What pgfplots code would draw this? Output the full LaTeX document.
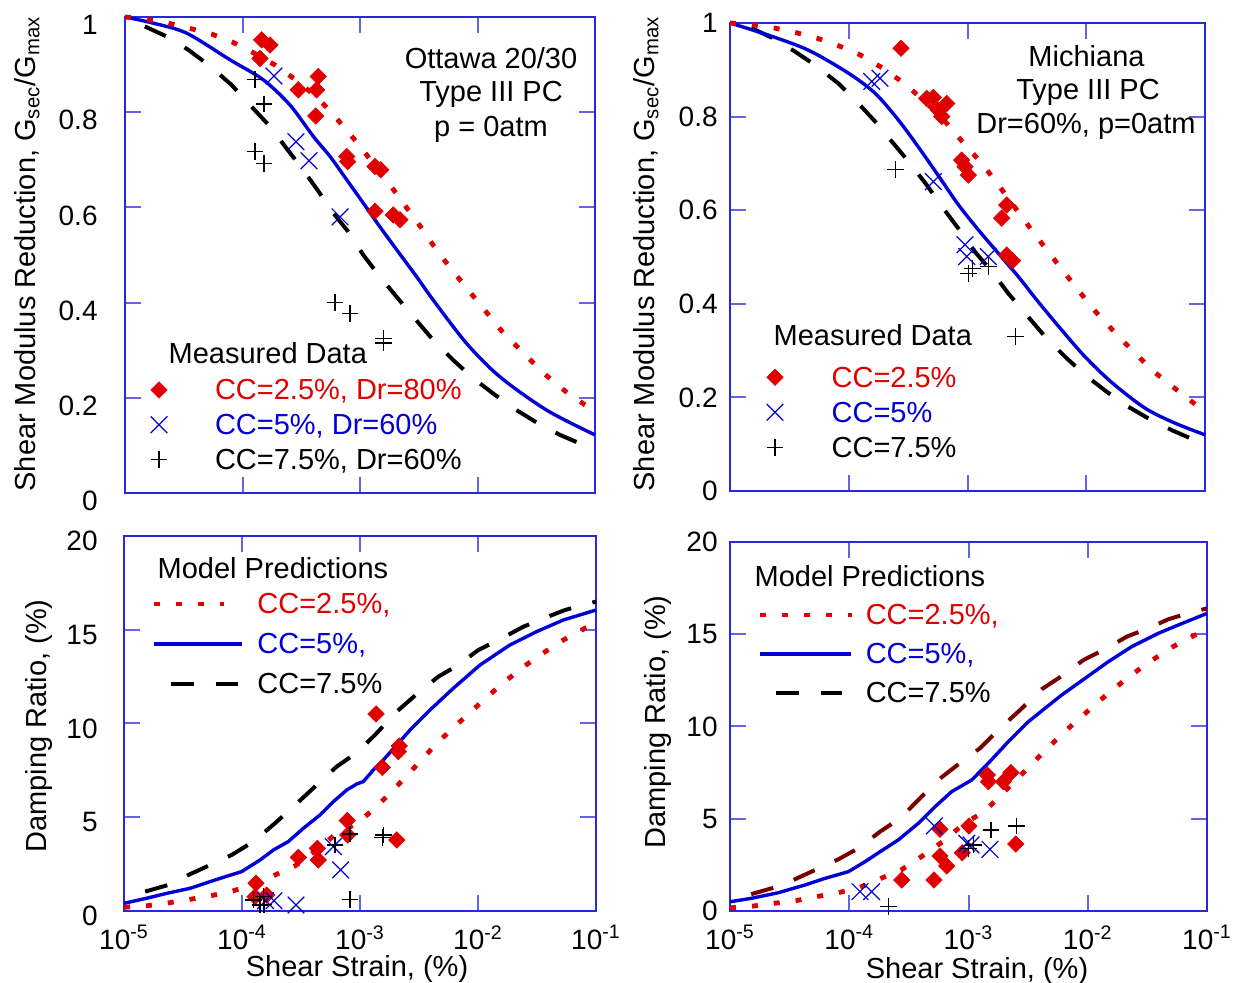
\documentclass[border=0pt]{standalone}
\usepackage{pgfplots}
\pgfplotsset{compat=1.18}
\usepackage{fontspec}
\setmainfont{Liberation Sans}
\definecolor{myred}{RGB}{225,0,0}
\definecolor{myblue}{RGB}{0,0,215}
\definecolor{framec}{RGB}{40,40,220}
\definecolor{tickc}{RGB}{100,100,230}
\definecolor{maroon}{RGB}{120,0,0}
\newcommand{\tf}{\fontsize{14.5pt}{17pt}\selectfont}
\newcommand{\tkf}{\fontsize{14pt}{16pt}\selectfont}
\pgfplotsset{
 base/.style={scale only axis, xmin=-5, xmax=-1, xtick={-5,-4,-3,-2,-1}, clip=false,
   axis line style={draw=framec, line width=1pt},
   tick style={draw=tickc, line width=1pt},
   major tick length=8pt, tick align=inside, xtick pos=both, ytick pos=both,
   xminorticks=false, yminorticks=false,
   tick label style={font=\tkf, /pgf/number format/assume math mode=true},
   legend cell align=left},
 gaxis/.style={base, ymin=0, ymax=1, ytick={0,0.2,0.4,0.6,0.8,1}, xticklabels={,,,,}},
 daxis/.style={base, ymin=0, ymax=20, ytick={0,5,10,15,20},
   xticklabels={10\textsuperscript{-5},10\textsuperscript{-4},10\textsuperscript{-3},10\textsuperscript{-2},10\textsuperscript{-1}},
   xticklabel style={anchor=north, inner sep=0pt, yshift=-7pt}},
 reddot/.style={myred, line width=2.4pt, dash pattern=on 3pt off 8pt},
 bluel/.style={myblue, line width=1.7pt},
 blkd/.style={black, line width=2pt, dash pattern=on 11.5pt off 11pt, dash phase=11.5pt},
 mleg/.style={legend image code/.code={\draw[##1] plot coordinates {(8pt,0pt)}; \path[draw=none,fill=none] (0pt,-6pt) rectangle (16pt,6pt);}},
 limg/.style n args={3}{legend image code/.code={\draw[##1] (#1,0pt) -- (#2,0pt); \path[draw=none,fill=none] (0pt,-5pt) rectangle (#3,5pt);}},
 limgb/.style n args={3}{legend image code/.code={\draw[##1, black, dash phase=0pt] (#1,0pt) -- (#2,0pt); \path[draw=none,fill=none] (0pt,-5pt) rectangle (#3,5pt);}},
 mdiam/.style={only marks, myred, mark=square*, mark size=2.9pt, mark options={rotate=45, fill=myred, draw=myred, line width=0.3pt}, mleg},
 mx/.style={only marks, myblue, mark=x, mark size=5.9pt, mark options={line width=0.6pt}, mleg},
 mplus/.style={only marks, black, mark=+, mark size=4.2pt, mark options={line width=0.6pt}, mleg},
}
\begin{document}
\begin{tikzpicture}[font=\tf]
\useasboundingbox (0pt,0pt) rectangle (618.5pt,491.5pt);
%================ TOP LEFT
\begin{axis}[gaxis, at={(62.5pt,245pt)}, anchor=south west, width=235pt, height=238pt,
  yticklabel style={anchor=east, inner sep=0pt, xshift=-13.5pt, yshift=-4pt},
  legend style={at={(0.0383,0.2416)}, anchor=north west, draw=none, fill=none, inner sep=0pt, outer sep=0pt,
    row sep=5.35pt, column sep=20pt, font=\tf, nodes={inner sep=0pt, text height=10pt, text depth=0pt}}]
\addplot[blkd, forget plot] coordinates {(-5,1.0) (-4.83,0.980) (-4.645,0.959) (-4.461,0.931) (-4.277,0.897) (-4.092,0.857) (-3.936,0.815) (-3.766,0.770) (-3.638,0.728) (-3.488,0.680) (-3.363,0.637) (-3.227,0.588) (-3.1,0.549) (-2.972,0.500) (-2.83,0.454) (-2.688,0.412) (-2.546,0.370) (-2.376,0.321) (-2.206,0.279) (-2.036,0.241) (-1.851,0.206) (-1.667,0.174) (-1.483,0.146) (-1.298,0.122) (-1.128,0.104) (-1.0,0.092)};
\addplot[bluel, smooth, forget plot] coordinates {(-5,1.0) (-4.759,0.987) (-4.475,0.966) (-4.106,0.910) (-3.823,0.868) (-3.596,0.815) (-3.397,0.749) (-3.255,0.707) (-3.113,0.658) (-2.972,0.609) (-2.830,0.559) (-2.688,0.511) (-2.517,0.454) (-2.376,0.405) (-2.092,0.314) (-1.809,0.244) (-1.411,0.174) (-1.0,0.122)};
\addplot[reddot, forget plot] coordinates {(-5,1.0) (-4.815,0.995) (-4.631,0.987) (-4.447,0.976) (-4.262,0.964) (-4.083,0.947) (-3.908,0.925) (-3.723,0.899) (-3.553,0.869) (-3.355,0.829) (-3.193,0.785) (-3.028,0.737) (-2.759,0.652) (-2.626,0.607) (-2.489,0.561) (-2.367,0.517) (-2.226,0.471) (-2.084,0.428) (-1.945,0.386) (-1.789,0.339) (-1.616,0.296) (-1.434,0.251) (-1.264,0.216) (-1.085,0.185) (-1.0,0.172)};
\addplot[mdiam] coordinates {(-3.837,0.952) (-3.766,0.941) (-3.851,0.913) (-3.355,0.875) (-3.525,0.847) (-3.369,0.847) (-3.377,0.792) (-3.113,0.707) (-3.105,0.696) (-2.872,0.686) (-2.824,0.679) (-2.872,0.592) (-2.716,0.584) (-2.66,0.574)};
\addlegendentry{\textcolor{myred}{CC=2.5\%, Dr=80\%}}
\addplot[mx] coordinates {(-3.732,0.876) (-3.545,0.738) (-3.434,0.698) (-3.17,0.580)};
\addlegendentry{\textcolor{myblue}{CC=5\%, Dr=60\%}}
\addplot[mplus] coordinates {(-3.894,0.868) (-3.817,0.817) (-3.894,0.717) (-3.817,0.693) (-3.213,0.400) (-3.085,0.377) (-2.802,0.325) (-2.802,0.315)};
\addlegendentry{CC=7.5\%, Dr=60\%}
\end{axis}
%================ TOP RIGHT
\begin{axis}[gaxis, at={(365pt,246pt)}, anchor=south west, width=237.5pt, height=234pt,
  yticklabel style={anchor=east, inner sep=0pt, xshift=-6pt},
  legend style={at={(0.0611,0.2686)}, anchor=north west, draw=none, fill=none, inner sep=0pt, outer sep=0pt,
    row sep=5.5pt, column sep=20.3pt, font=\tf, nodes={inner sep=0pt, text height=10pt, text depth=0pt}}]
\addplot[blkd, forget plot] coordinates {(-5,1.0) (-4.818,0.989) (-4.635,0.967) (-4.453,0.939) (-4.284,0.910) (-4.088,0.871) (-3.933,0.832) (-3.765,0.786) (-3.625,0.743) (-3.484,0.700) (-3.344,0.654) (-3.204,0.604) (-3.077,0.561) (-2.937,0.511) (-2.796,0.469) (-2.656,0.422) (-2.516,0.380) (-2.347,0.330) (-2.179,0.287) (-2.011,0.248) (-1.828,0.212) (-1.646,0.180) (-1.477,0.155) (-1.28,0.130) (-1.126,0.113) (-1.0,0.104)};
\addplot[bluel, smooth, forget plot] coordinates {(-5,1.0) (-4.677,0.974) (-4.341,0.942) (-4.004,0.893) (-3.779,0.850) (-3.583,0.793) (-3.414,0.735) (-3.246,0.674) (-3.078,0.612) (-2.909,0.558) (-2.741,0.508) (-2.572,0.458) (-2.404,0.404) (-2.207,0.344) (-2.011,0.287) (-1.786,0.232) (-1.505,0.177) (-1.253,0.145) (-1.0,0.120)};
\addplot[reddot, forget plot] coordinates {(-5,1.0) (-4.804,0.996) (-4.621,0.989) (-4.438,0.979) (-4.261,0.967) (-4.082,0.951) (-3.905,0.932) (-3.737,0.907) (-3.554,0.875) (-3.36,0.833) (-3.19,0.79) (-3.035,0.744) (-2.886,0.702) (-2.746,0.656) (-2.482,0.565) (-2.353,0.522) (-2.207,0.474) (-2.067,0.429) (-1.921,0.383) (-1.772,0.342) (-1.589,0.294) (-1.421,0.253) (-1.238,0.216) (-1.076,0.184) (-1.0,0.172)};
\addplot[mdiam] coordinates {(-3.56,0.946) (-3.344,0.839) (-3.288,0.841) (-3.175,0.828) (-3.246,0.814) (-3.217,0.800) (-3.049,0.707) (-3.021,0.693) (-2.993,0.675) (-2.67,0.611) (-2.712,0.583) (-2.67,0.504) (-2.622,0.492)};
\addlegendentry{\textcolor{myred}{CC=2.5\%}}
\addplot[mx] coordinates {(-3.807,0.875) (-3.737,0.882) (-3.288,0.661) (-3.021,0.526) (-3.007,0.501) (-2.825,0.501)};
\addlegendentry{\textcolor{myblue}{CC=5\%}}
\addplot[mplus] coordinates {(-3.605,0.687) (-2.993,0.465) (-2.959,0.476) (-2.825,0.479) (-2.594,0.330)};
\addlegendentry{CC=7.5\%}
\end{axis}
%================ BOTTOM LEFT
\begin{axis}[daxis, at={(62pt,36pt)}, anchor=south west, width=236pt, height=187.5pt,
  yticklabel style={anchor=east, inner sep=0pt, xshift=-13pt, yshift=-2.5pt},
  reverse legend,
  legend style={at={(0.0587,0.8453)}, anchor=north west, draw=none, fill=none, inner sep=0pt, outer sep=0pt,
    row sep=10pt, column sep=5.65pt, font=\tf, nodes={inner sep=0pt, text height=10pt, text depth=0pt}}]
\addplot[blkd, limgb={8.2pt}{41.7pt}{46pt}] coordinates {(-5,0.71) (-4.822,1.03) (-4.624,1.39) (-4.455,1.92) (-4.271,2.45) (-4.087,2.99) (-3.904,3.70) (-3.72,4.68) (-3.565,5.56) (-3.367,6.72) (-3.198,7.70) (-3.028,8.44) (-2.873,9.39) (-2.689,10.63) (-2.519,11.57) (-2.336,12.50) (-2.167,13.12) (-1.997,13.92) (-1.799,14.54) (-1.616,15.16) (-1.447,15.60) (-1.263,16.05) (-1.079,16.37) (-1.0,16.5)};
\addlegendentry{CC=7.5\%}
\addplot[bluel, limg={0pt}{44pt}{46pt}] coordinates {(-5,0.41) (-4.808,0.68) (-4.638,0.94) (-4.441,1.21) (-4.186,1.74) (-4.003,2.10) (-3.847,2.72) (-3.735,3.25) (-3.608,3.70) (-3.48,4.41) (-3.339,5.12) (-3.226,5.83) (-3.113,6.45) (-3.028,6.77) (-2.972,6.90) (-2.887,7.52) (-2.803,8.05) (-2.689,8.85) (-2.576,9.65) (-2.407,10.72) (-2.209,11.88) (-1.983,13.12) (-1.729,14.19) (-1.503,14.90) (-1.277,15.52) (-1.0,16.05)};
\addlegendentry{\textcolor{myblue}{CC=5\%,}}
\addplot[reddot, limg={0pt}{35pt}{46pt}] coordinates {(-5,0.2) (-4.802,0.28) (-4.616,0.44) (-4.441,0.62) (-4.257,0.82) (-4.079,1.07) (-3.904,1.39) (-3.72,1.92) (-3.551,2.40) (-3.367,3.25) (-3.198,4.14) (-3.023,4.68) (-2.853,5.60) (-2.684,6.68) (-2.514,7.82) (-2.35,8.94) (-2.175,9.97) (-1.997,10.99) (-1.814,12.02) (-1.625,12.98) (-1.452,13.74) (-1.277,14.45) (-1.093,15.08) (-1.0,15.3)};
\addlegendentry{\textcolor{myred}{CC=2.5\%,}}
\addplot[mdiam, forget plot] coordinates {(-2.864,10.51) (-2.667,8.80) (-2.675,8.50) (-2.811,7.66) (-3.108,4.82) (-3.104,4.05) (-3.362,3.34) (-3.353,2.72) (-3.523,2.86) (-3.881,1.48) (-3.791,0.85) (-3.89,0.76) (-2.689,3.79)};
\addplot[mx, forget plot] coordinates {(-3.226,3.43) (-3.164,2.19) (-3.729,0.55) (-3.542,0.32) (-3.80,0.55)};
\addplot[mplus, forget plot] coordinates {(-3.085,4.11) (-2.803,4.05) (-2.81,3.9) (-3.212,3.52) (-3.085,0.62) (-3.904,0.59) (-3.819,0.76) (-3.847,0.32) (-3.814,0.35)};
\end{axis}
%================ BOTTOM RIGHT
\begin{axis}[daxis, at={(365pt,36pt)}, anchor=south west, width=238.5pt, height=184.5pt,
  yticklabel style={anchor=east, inner sep=0pt, xshift=-6pt},
  reverse legend,
  legend style={at={(0.058,0.8293)}, anchor=north west, draw=none, fill=none, inner sep=0pt, outer sep=0pt,
    row sep=9.5pt, column sep=5.65pt, font=\tf, nodes={inner sep=0pt, text height=10pt, text depth=0pt}}]
\addplot[blkd, maroon, limgb={8.2pt}{41pt}{47pt}] coordinates {(-5,0.58) (-4.818,0.92) (-4.623,1.28) (-4.469,1.68) (-4.287,2.22) (-4.092,2.80) (-3.924,3.40) (-3.742,4.30) (-3.574,5.02) (-3.393,6.20) (-3.225,7.25) (-3.057,8.09) (-2.904,8.82) (-2.736,9.90) (-2.568,10.89) (-2.386,12.02) (-2.205,12.79) (-2.037,13.60) (-1.841,14.24) (-1.673,14.87) (-1.5,15.30) (-1.325,15.81) (-1.143,16.17) (-1.0,16.4)};
\addlegendentry{CC=7.5\%}
\addplot[bluel, limg={0pt}{45.3pt}{47pt}] coordinates {(-5,0.50) (-4.818,0.69) (-4.595,0.99) (-4.371,1.41) (-4.203,1.77) (-4.008,2.13) (-3.868,2.67) (-3.728,3.27) (-3.589,3.85) (-3.421,4.75) (-3.281,5.65) (-3.141,6.47) (-2.973,7.10) (-2.834,8.01) (-2.666,9.18) (-2.498,10.26) (-2.358,10.99) (-2.218,11.71) (-2.023,12.61) (-1.828,13.51) (-1.631,14.33) (-1.408,15.05) (-1.241,15.50) (-1.0,16.13)};
\addlegendentry{\textcolor{myblue}{CC=5\%,}}
\addplot[reddot, limg={0pt}{46pt}{47pt}] coordinates {(-5,0.17) (-4.804,0.27) (-4.623,0.42) (-4.449,0.56) (-4.273,0.78) (-4.092,0.99) (-3.910,1.28) (-3.734,1.77) (-3.566,2.22) (-3.387,2.98) (-3.197,3.85) (-3.035,4.75) (-2.867,5.38) (-2.7,6.47) (-2.532,7.55) (-2.344,8.78) (-2.185,9.77) (-1.995,10.86) (-1.828,11.80) (-1.646,12.74) (-1.478,13.51) (-1.296,14.29) (-1.106,14.94) (-1.0,15.2)};
\addlegendentry{\textcolor{myred}{CC=2.5\%,}}
\addplot[mdiam, forget plot] coordinates {(-2.842,7.37) (-2.834,7.01) (-2.708,7.01) (-2.644,7.50) (-3.239,4.43) (-2.996,4.61) (-3.239,2.98) (-3.183,2.44) (-3.052,3.16) (-3.56,1.68) (-3.289,1.68) (-2.604,3.63)};
\addplot[mx, forget plot] coordinates {(-3.287,4.61) (-3.015,3.67) (-2.979,3.58) (-2.820,3.34) (-3.91,1.05) (-3.812,1.05)};
\addplot[mplus, forget plot] coordinates {(-2.811,4.39) (-2.596,4.61) (-2.96,3.58) (-3.002,3.40) (-3.672,0.23)};
\end{axis}
%================ TEXT
\begin{scope}[x=0.5pt, y=-0.5pt, yshift=491.5pt, every node/.style={inner sep=0pt, font=\tf}]
\node[anchor=base] at (491,68.3) {Ottawa 20/30};
\node[anchor=base] at (491,101.7) {Type III PC};
\node[anchor=base] at (491,137) {p = 0atm};
\node[anchor=base] at (1086.5,66.7) {Michiana};
\node[anchor=base] at (1088,100) {Type III PC};
\node[anchor=base] at (1086,134) {Dr=60\%, p=0atm};
\node[anchor=base west] at (168.3,363.3) {Measured Data};
\node[anchor=base west] at (773.3,346) {Measured Data};
\node[anchor=base west] at (157.3,579) {Model Predictions};
\node[anchor=base west] at (754.3,586.7) {Model Predictions};
\node[rotate=90, anchor=base] at (35,254) {Shear Modulus Reduction, G\textsubscript{sec}/G\textsubscript{max}};
\node[rotate=90, anchor=base] at (654,254) {Shear Modulus Reduction, G\textsubscript{sec}/G\textsubscript{max}};
\node[rotate=90, anchor=base] at (46.7,726) {Damping Ratio, (\%)};
\node[rotate=90, anchor=base] at (665,722) {Damping Ratio, (\%)};
\node[anchor=base] at (357,977) {Shear Strain, (\%)};
\node[anchor=base] at (977,979) {Shear Strain, (\%)};
\end{scope}
\end{tikzpicture}
\end{document}
